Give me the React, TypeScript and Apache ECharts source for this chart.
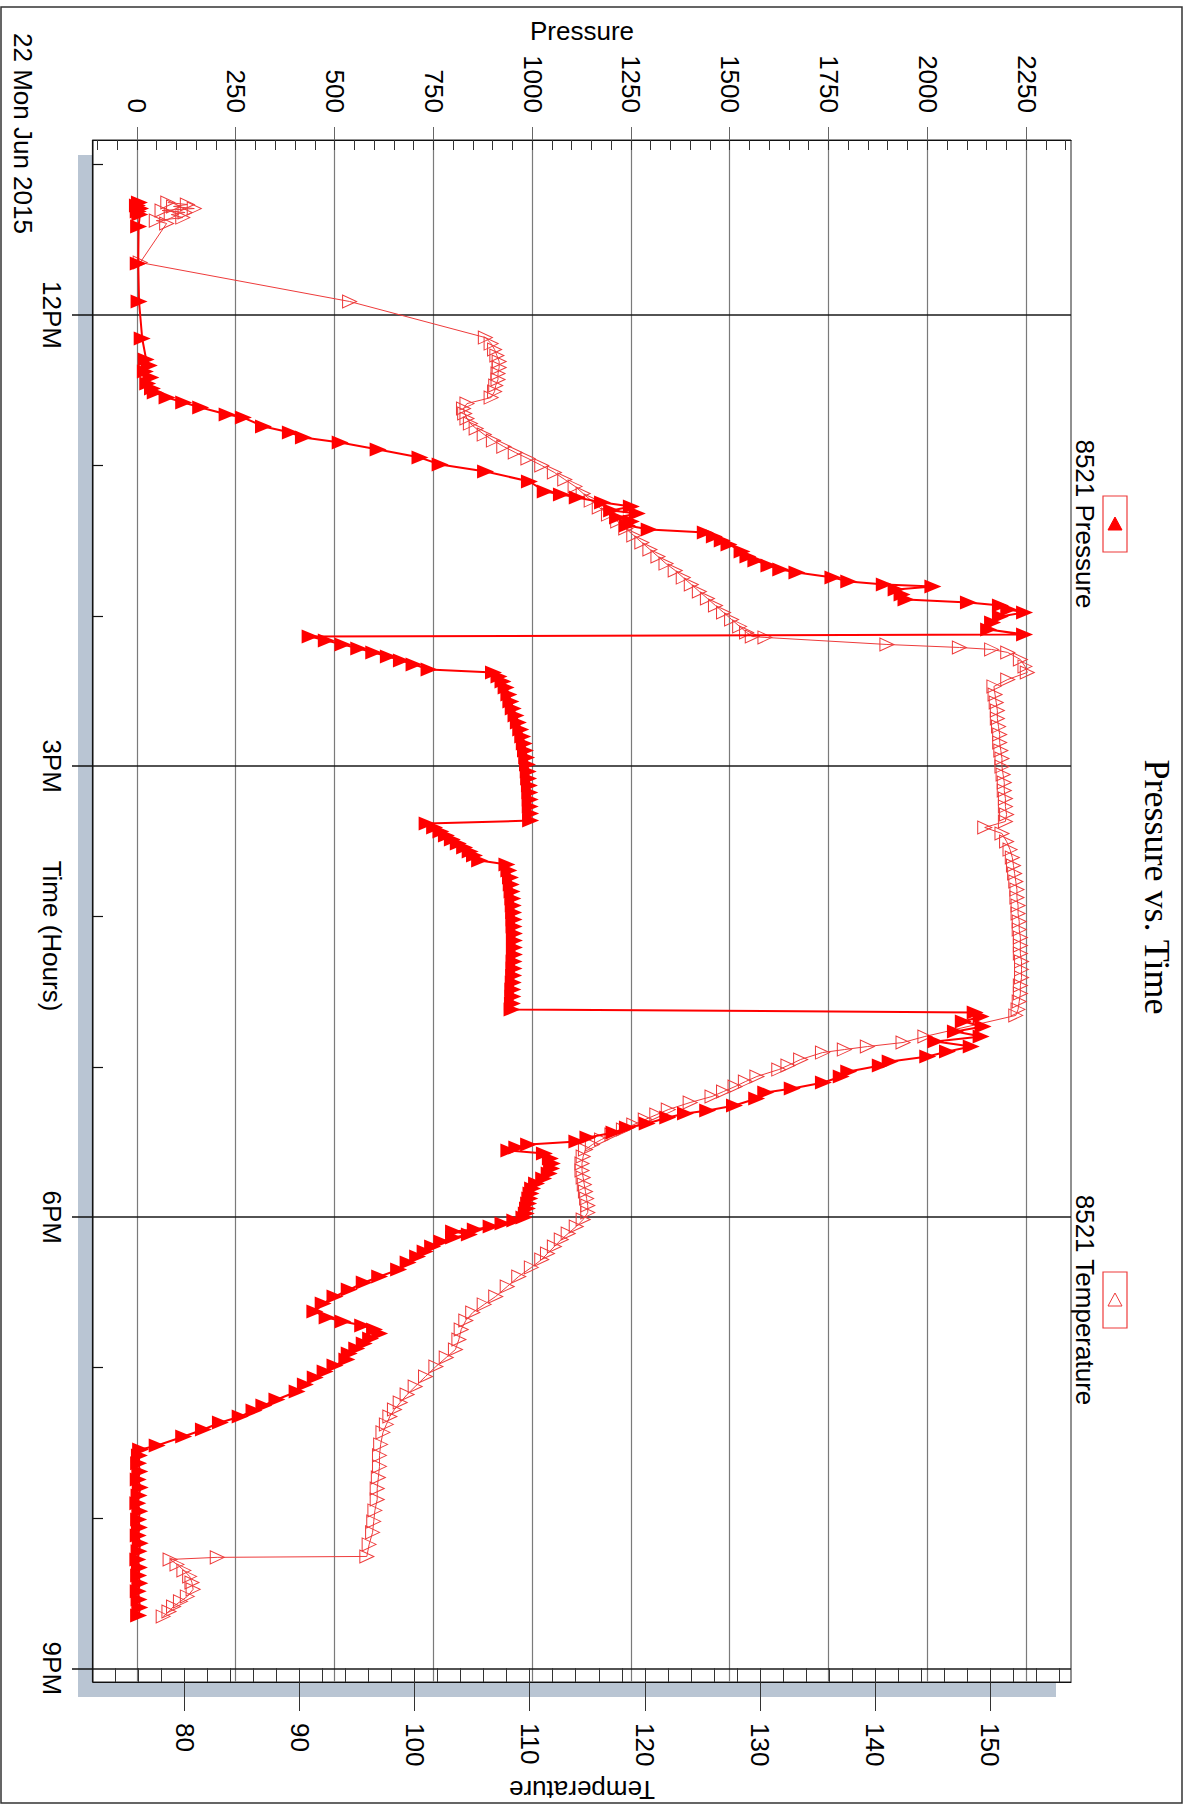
import React, { useEffect, useRef } from 'react';
import * as echarts from 'echarts';

// ---- data (time in decimal hours of 22 Jun 2015) ----
const pressureTime = [
  11.252, 11.272, 11.292, 11.312, 11.332, 11.411, 11.658, 11.910, 12.156, 12.296,
  12.336, 12.376, 12.416, 12.456, 12.489, 12.515, 12.549, 12.582, 12.615, 12.662,
  12.682, 12.741, 12.781, 12.815, 12.848, 12.894, 12.948, 12.994, 13.041, 13.107,
  13.174, 13.194, 13.214, 13.247, 13.273, 13.300, 13.320, 13.347, 13.373, 13.400,
  13.426, 13.446, 13.473, 13.500, 13.526, 13.573, 13.606, 13.633, 13.666, 13.692,
  13.712, 13.746, 13.772, 13.792, 13.805, 13.825, 13.859, 13.892, 13.912, 13.932,
  13.958, 13.978, 14.005, 14.045, 14.091, 14.125, 14.138, 14.165, 14.191, 14.218,
  14.244, 14.271, 14.298, 14.324, 14.357, 14.377, 14.404, 14.437, 14.477, 14.524,
  14.570, 14.617, 14.663, 14.710, 14.756, 14.803, 14.850, 14.896, 14.943, 14.989,
  15.036, 15.082, 15.129, 15.175, 15.222, 15.268, 15.315, 15.362, 15.382, 15.408,
  15.435, 15.461, 15.488, 15.515, 15.541, 15.568, 15.594, 15.628, 15.654, 15.694,
  15.741, 15.787, 15.834, 15.880, 15.927, 15.973, 16.020, 16.067, 16.113, 16.160,
  16.206, 16.253, 16.299, 16.346, 16.392, 16.439, 16.486, 16.532, 16.579, 16.619,
  16.638, 16.665, 16.698, 16.731, 16.765, 16.798, 16.831, 16.865, 16.898, 16.931,
  16.964, 16.991, 17.031, 17.064, 17.104, 17.144, 17.170, 17.210, 17.257, 17.290,
  17.310, 17.337, 17.377, 17.403, 17.436, 17.470, 17.496, 17.516, 17.536, 17.556,
  17.576, 17.609, 17.643, 17.676, 17.709, 17.742, 17.776, 17.809, 17.842, 17.875,
  17.909, 17.942, 17.975, 18.002, 18.022, 18.042, 18.062, 18.082, 18.095, 18.115,
  18.135, 18.161, 18.195, 18.228, 18.261, 18.301, 18.348, 18.394, 18.434, 18.481,
  18.527, 18.574, 18.627, 18.667, 18.693, 18.720, 18.747, 18.773, 18.806, 18.840,
  18.873, 18.906, 18.946, 18.986, 19.026, 19.066, 19.112, 19.159, 19.212, 19.252,
  19.285, 19.325, 19.365, 19.412, 19.458, 19.518, 19.545, 19.584, 19.637, 19.691,
  19.744, 19.797, 19.850, 19.903, 19.956, 20.010, 20.063, 20.116, 20.169, 20.222,
  20.276, 20.329, 20.382, 20.435, 20.488, 20.542, 20.595, 20.648,
];

const pressureValue = [
  5, 0, 8, 2, 6, 3, 2, 4, 12, 22,
  30, 20, 34, 26, 38, 45, 75, 117, 160, 227,
  268, 319, 387, 420, 513, 609, 715, 766, 881, 992,
  1032, 1073, 1113, 1177, 1250, 1200, 1265, 1215, 1250, 1240,
  1295, 1437, 1460, 1480, 1497, 1530, 1545, 1565, 1598, 1628,
  1669, 1760, 1800, 1890, 2013, 1920, 1935, 1945, 2103, 2184,
  2205, 2245, 2184, 2164, 2154, 2245, 437, 478, 520, 560,
  598, 635, 668, 700, 738, 901, 915, 925, 933, 940,
  945, 951, 958, 964, 970, 975, 979, 982, 985, 987,
  989, 990, 992, 993, 994, 994, 995, 995, 733, 752,
  768, 782, 797, 812, 828, 842, 853, 866, 935, 940,
  944, 946, 948, 950, 951, 952, 953, 953, 954, 954,
  954, 954, 953, 953, 952, 951, 950, 950, 949, 948,
  2120, 2135, 2090, 2140, 2070, 2135, 2020, 2110, 2050, 2000,
  1905, 1880, 1800, 1781, 1736, 1657, 1590, 1567, 1511, 1443,
  1387, 1342, 1290, 1240, 1206, 1140, 1112, 990, 960, 940,
  1030, 1045, 1050, 1048, 1042, 1028, 1010, 1000, 996, 993,
  990, 987, 984, 978, 955, 925, 895, 855, 800, 840,
  800, 770, 747, 728, 709, 685, 661, 613, 574, 536,
  500, 470, 449, 480, 520, 570, 600, 613, 590, 574,
  555, 536, 530, 500, 475, 450, 425, 404, 353, 320,
  295, 260, 210, 167, 117, 50, 8, 5, 3, 6,
  2, 7, 4, 1, 6, 3, 5, 2, 7, 4,
  1, 5, 3, 6, 2, 4, 6, 3,
];

const temperatureTime = [
  11.252, 11.265, 11.278, 11.292, 11.305, 11.318, 11.332, 11.352, 11.372, 11.391,
  11.651, 11.910, 12.150, 12.190, 12.229, 12.269, 12.309, 12.349, 12.389, 12.429,
  12.469, 12.509, 12.549, 12.589, 12.622, 12.655, 12.688, 12.722, 12.755, 12.795,
  12.835, 12.875, 12.914, 12.954, 13.001, 13.047, 13.094, 13.140, 13.187, 13.234,
  13.280, 13.327, 13.373, 13.420, 13.466, 13.513, 13.559, 13.606, 13.653, 13.699,
  13.746, 13.792, 13.839, 13.885, 13.932, 13.978, 14.025, 14.071, 14.111, 14.138,
  14.144, 14.191, 14.211, 14.224, 14.244, 14.291, 14.337, 14.377, 14.424, 14.470,
  14.524, 14.577, 14.630, 14.683, 14.737, 14.790, 14.843, 14.896, 14.949, 15.003,
  15.056, 15.109, 15.162, 15.215, 15.269, 15.322, 15.368, 15.408, 15.448, 15.501,
  15.555, 15.608, 15.661, 15.714, 15.767, 15.821, 15.874, 15.927, 15.980, 16.033,
  16.087, 16.140, 16.193, 16.246, 16.299, 16.352, 16.406, 16.459, 16.512, 16.565,
  16.618, 16.658, 16.798, 16.838, 16.865, 16.885, 16.905, 16.951, 16.991, 17.018,
  17.064, 17.098, 17.131, 17.164, 17.197, 17.237, 17.284, 17.317, 17.350, 17.384,
  17.417, 17.450, 17.483, 17.517, 17.550, 17.596, 17.643, 17.689, 17.736, 17.783,
  17.829, 17.876, 17.922, 17.969, 18.015, 18.062, 18.108, 18.148, 18.195, 18.241,
  18.281, 18.334, 18.394, 18.461, 18.527, 18.580, 18.634, 18.687, 18.747, 18.813,
  18.880, 18.933, 18.993, 19.059, 19.126, 19.179, 19.232, 19.279, 19.325, 19.378,
  19.431, 19.511, 19.584, 19.657, 19.731, 19.804, 19.877, 19.950, 20.023, 20.096,
  20.176, 20.256, 20.262, 20.276, 20.309, 20.349, 20.389, 20.429, 20.475, 20.522,
  20.555, 20.589, 20.622, 20.655,
];

const temperatureValue = [
  78.5, 80.2, 79.0, 80.8, 78.0, 80.0, 78.8, 79.8, 77.5, 78.4,
  76.1, 94.3, 106.1, 106.6, 106.9, 107.1, 107.3, 107.3, 107.2, 107.2,
  107.0, 106.9, 106.6, 104.5, 104.2, 104.3, 104.5, 104.8, 105.3, 106.0,
  106.8, 107.7, 108.7, 109.8, 111.0, 112.1, 113.0, 113.9, 114.6, 115.3,
  116.0, 116.8, 117.6, 118.3, 119.0, 119.7, 120.4, 121.1, 121.8, 122.6,
  123.3, 124.0, 124.7, 125.4, 126.1, 126.8, 127.5, 128.2, 128.8, 129.3,
  130.4, 141.0, 147.3, 150.1, 151.5, 152.6, 153.0, 153.2, 151.5, 150.3,
  150.4, 150.5, 150.6, 150.6, 150.7, 150.8, 150.8, 150.9, 151.0, 151.0,
  151.1, 151.2, 151.2, 151.3, 151.3, 151.4, 151.3, 149.5, 151.0, 151.4,
  151.7, 151.9, 152.0, 152.1, 152.2, 152.3, 152.3, 152.4, 152.4, 152.5,
  152.5, 152.6, 152.6, 152.6, 152.7, 152.7, 152.7, 152.6, 152.6, 152.5,
  152.4, 152.2, 144.3, 142.4, 139.3, 137.3, 135.4, 133.5, 132.4, 131.6,
  129.7, 128.7, 127.8, 126.8, 125.8, 123.9, 122.0, 121.0, 120.0, 119.0,
  118.1, 117.1, 116.2, 115.4, 114.8, 114.6, 114.5, 114.5, 114.6, 114.7,
  114.8, 114.9, 115.0, 115.0, 114.6, 114.0, 113.3, 112.7, 112.1, 111.5,
  111.0, 110.1, 109.0, 108.0, 107.0, 106.0, 105.0, 104.4, 104.0, 103.8,
  103.5, 102.7, 101.8, 100.9, 100.0, 99.3, 98.7, 98.2, 97.8, 97.5,
  97.2, 97.0, 96.9, 96.9, 96.8, 96.7, 96.7, 96.5, 96.4, 96.3,
  96.0, 95.8, 82.8, 78.7, 79.3, 79.9, 80.4, 80.6, 80.7, 80.2,
  79.6, 79.0, 78.6, 78.1,
];

// ---- axes / labels ----
const timeTicks = [12, 15, 18, 21];
const timeTickLabels = ['12PM', '3PM', '6PM', '9PM'];
const hourTicks = [11, 13, 14, 16, 17, 19, 20];
const timeRange = [10.836, 21.091];
const pressureTicks = [0, 250, 500, 750, 1000, 1250, 1500, 1750, 2000, 2250];
const pressureRange = [-112.5, 2362.5];
const temperatureTicks = [80, 90, 100, 110, 120, 130, 140, 150];
const temperatureRange = [72, 157];
const dateLabel = '22 Mon Jun 2015';
const chartTitle = 'Pressure vs. Time';
const timeAxisName = 'Time (Hours)';
const pressureAxisName = 'Pressure';
const temperatureAxisName = 'Temperature';
const seriesNames = ['8521 Pressure', '8521 Temperature'];

// chart is laid out landscape and turned a quarter turn clockwise
const W = 1812;
const H = 1195;
const SANS = '"Liberation Sans", Arial, Helvetica, sans-serif';
const SERIF = '"Liberation Serif", "Times New Roman", serif';
const RED = '#ff0000';
const LIGHT_RED = '#ee3b3b';

const pressureMinor: number[] = [];
for (let v = -100; v <= 2350; v += 50) pressureMinor.push(v);
const temperatureMinor: number[] = [];
for (let v = 74; v <= 156; v += 2) temperatureMinor.push(v);

function buildOption() {
  const grid = { left: 140, top: 124, width: 1542, height: 978 };
  const gx0 = grid.left;
  const gy0 = grid.top;

  const labelStyle = { color: '#000', fontSize: 26, fontFamily: SANS };

  const legendItem = (cx: number, name: string, filled: boolean) => ({
    type: 'group',
    children: [
      {
        type: 'rect',
        shape: { x: cx - 28, y: 68, width: 56, height: 24 },
        style: { fill: 'none', stroke: LIGHT_RED, lineWidth: 1.2 },
      },
      {
        type: 'polygon',
        shape: { points: [[cx + 6, 73], [cx + 6, 87], [cx - 7, 80]] },
        style: filled
          ? { fill: RED, stroke: RED, lineWidth: 1 }
          : { fill: 'none', stroke: LIGHT_RED, lineWidth: 1 },
      },
      {
        type: 'text',
        x: cx,
        y: 110,
        style: { text: name, fontSize: 26, fontFamily: SANS, fill: '#000', align: 'center', verticalAlign: 'middle' },
      },
    ],
  });

  return {
    animation: false,
    backgroundColor: '#ffffff',
    tooltip: { show: false },
    grid: {
      ...grid,
      show: true,
      backgroundColor: '#ffffff',
      borderColor: '#222',
      borderWidth: 1,
    },
    graphic: [
      {
        type: 'rect',
        z: -10,
        shape: { x: gx0 + 15, y: gy0 + 15, width: grid.width, height: grid.height },
        style: { fill: '#b9c5d3' },
        silent: true,
      },
      {
        type: 'rect',
        z: 100,
        shape: { x: 7, y: 13, width: 1796, height: 1181 },
        style: { fill: 'none', stroke: '#333', lineWidth: 1.5 },
        silent: true,
      },
      {
        type: 'text',
        x: 887,
        y: 38,
        style: { text: chartTitle, fontSize: 36, fontFamily: SERIF, fill: '#000', align: 'center', verticalAlign: 'middle' },
      },
      legendItem(524, seriesNames[0], true),
      legendItem(1300, seriesNames[1], false),
      {
        type: 'text',
        x: 33,
        y: 1172,
        style: { text: dateLabel, fontSize: 26, fontFamily: SANS, fill: '#000', align: 'left', verticalAlign: 'middle' },
      },
      {
        type: 'text',
        x: 936,
        y: 1143,
        style: { text: timeAxisName, fontSize: 26, fontFamily: SANS, fill: '#000', align: 'center', verticalAlign: 'middle' },
      },
    ],
    xAxis: [
      {
        type: 'value',
        position: 'bottom',
        min: timeRange[0],
        max: timeRange[1],
        axisLine: { show: true, onZero: false, lineStyle: { color: '#111', width: 1.2 } },
        axisTick: { show: true, customValues: timeTicks, length: 21, lineStyle: { color: '#111', width: 1.5 } },
        axisLabel: {
          show: true,
          customValues: timeTicks,
          margin: 28,
          ...labelStyle,
          formatter: (v: number) => timeTickLabels[timeTicks.indexOf(Math.round(v))] ?? '',
        },
        splitLine: { show: true, lineStyle: { color: '#1a1a1a', width: 1.5 } },
      },
      {
        type: 'value',
        position: 'bottom',
        min: timeRange[0],
        max: timeRange[1],
        axisLine: { show: false, onZero: false },
        axisTick: { show: true, customValues: hourTicks, inside: true, length: 10, lineStyle: { color: '#111', width: 1.2 } },
        axisLabel: { show: false },
        splitLine: { show: false },
      },
    ],
    yAxis: [
      {
        type: 'value',
        position: 'left',
        min: pressureRange[0],
        max: pressureRange[1],
        name: pressureAxisName,
        nameLocation: 'middle',
        nameGap: 87,
        nameTextStyle: { ...labelStyle },
        axisLine: { show: true, onZero: false, lineStyle: { color: '#111', width: 1.2 } },
        axisTick: { show: true, customValues: pressureTicks, length: 13, lineStyle: { color: '#666', width: 1 } },
        axisLabel: { show: true, customValues: pressureTicks, margin: 27, ...labelStyle, formatter: (v: number) => String(v) },
        splitLine: { show: true, lineStyle: { color: '#7a7a7a', width: 1.2 } },
      },
      {
        type: 'value',
        position: 'left',
        min: pressureRange[0],
        max: pressureRange[1],
        axisLine: { show: false, onZero: false },
        axisTick: { show: true, customValues: pressureMinor, inside: true, length: 10, lineStyle: { color: '#333', width: 1 } },
        axisLabel: { show: false },
        splitLine: { show: false },
      },
      {
        type: 'value',
        position: 'right',
        min: temperatureRange[0],
        max: temperatureRange[1],
        name: temperatureAxisName,
        nameLocation: 'middle',
        nameGap: 92,
        nameRotate: -90,
        nameTextStyle: { ...labelStyle },
        axisLine: { show: true, onZero: false, lineStyle: { color: '#111', width: 1.2 } },
        axisTick: { show: true, customValues: temperatureTicks, length: 29, lineStyle: { color: '#333', width: 1 } },
        axisLabel: { show: true, customValues: temperatureTicks, margin: 41, ...labelStyle, formatter: (v: number) => String(v) },
        splitLine: { show: false },
      },
      {
        type: 'value',
        position: 'right',
        min: temperatureRange[0],
        max: temperatureRange[1],
        axisLine: { show: false, onZero: false },
        axisTick: { show: true, customValues: temperatureMinor, inside: true, length: 14, lineStyle: { color: '#333', width: 1 } },
        axisLabel: { show: false },
        splitLine: { show: false },
      },
    ],
    series: [
      {
        name: seriesNames[1],
        type: 'line',
        xAxisIndex: 0,
        yAxisIndex: 2,
        data: temperatureTime.map((t, i) => [t, temperatureValue[i]]),
        symbol: 'triangle',
        symbolSize: [13, 14],
        showSymbol: true,
        itemStyle: { color: 'rgba(255,255,255,0)', borderColor: LIGHT_RED, borderWidth: 1 },
        lineStyle: { color: LIGHT_RED, width: 1 },
        emphasis: { disabled: true },
        silent: true,
        z: 3,
      },
      {
        name: seriesNames[0],
        type: 'line',
        xAxisIndex: 0,
        yAxisIndex: 0,
        data: pressureTime.map((t, i) => [t, pressureValue[i]]),
        symbol: 'triangle',
        symbolSize: [14, 17],
        showSymbol: true,
        itemStyle: { color: RED },
        lineStyle: { color: RED, width: 2 },
        emphasis: { disabled: true },
        silent: true,
        z: 4,
      },
    ],
  };
}

export default function App() {
  const ref = useRef<HTMLDivElement>(null);
  useEffect(() => {
    if (!ref.current) return;
    const chart = echarts.init(ref.current, null, { renderer: 'svg', width: W, height: H });
    chart.setOption(buildOption() as any);
    return () => chart.dispose();
  }, []);
  return (
    <div
      style={{
        position: 'absolute',
        left: 0,
        top: 0,
        width: H,
        height: W,
        overflow: 'hidden',
        background: '#fff',
      }}
    >
      <div
        ref={ref}
        style={{
          position: 'absolute',
          left: 0,
          top: 0,
          width: W,
          height: H,
          transformOrigin: '0 0',
          transform: `translate(${H}px, 0px) rotate(90deg)`,
        }}
      />
    </div>
  );
}
